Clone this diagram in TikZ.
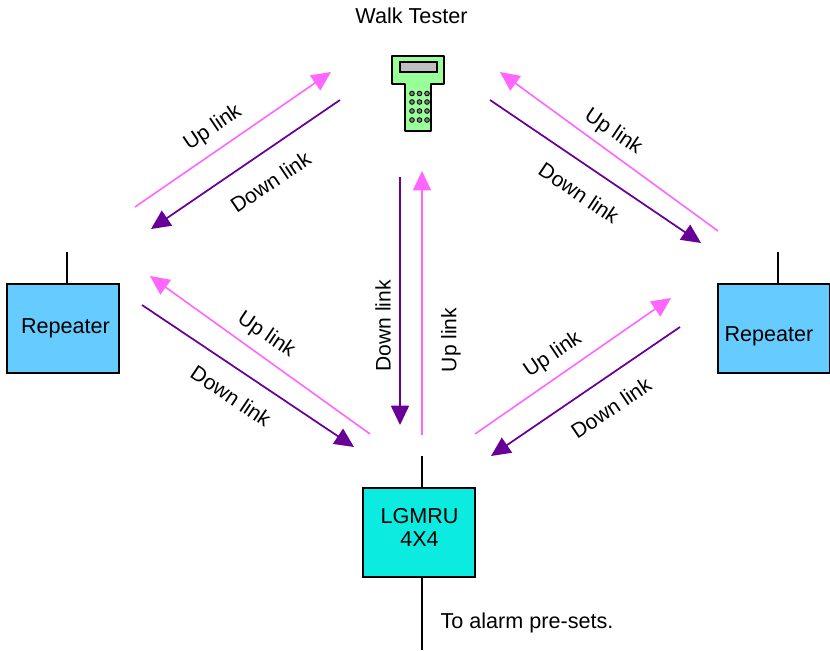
\documentclass[tikz,border=0pt]{standalone}
\usepackage{fontspec}
\setmainfont{Liberation Sans}
\usetikzlibrary{arrows.meta}
\definecolor{uplink}{HTML}{FF66FF}
\definecolor{downlink}{HTML}{660099}
\definecolor{repeaterblue}{HTML}{66CCFF}
\definecolor{lgmrucyan}{HTML}{0CEBE0}
\definecolor{testergreen}{HTML}{99FF99}
\definecolor{testergrey}{HTML}{C0C0C0}
\tikzset{
  box/.style={draw=black,line width=1.5pt,minimum width=84pt,minimum height=66.75pt,inner sep=0pt},
  txt/.style={inner sep=0pt,font=\fontsize{16.2pt}{17.2pt}\selectfont,align=center},
  linktxt/.style={inner sep=0pt,font=\fontsize{15.8pt}{17pt}\selectfont},
  up/.style={uplink,line width=1.2pt,-{Triangle[length=14.5pt,width=13.5pt]}},
  down/.style={downlink,line width=1.3pt,-{Triangle[length=14.5pt,width=13.5pt]}},
  wire/.style={black,line width=1.3pt},
  key/.style={draw=black,fill=gray,line width=.6pt,circle,minimum size=3.5pt,inner sep=0pt}
}
\begin{document}
\begin{tikzpicture}[x=0.75pt,y=-0.75pt]
  \useasboundingbox (0,0) rectangle (830,650);
  \draw
    (63,328.5) node[box,fill=repeaterblue] (leftrepeater){}
    (774,328.5) node[box,fill=repeaterblue] (rightrepeater){}
    (419,532.5) node[box,fill=lgmrucyan] (lgmru){};
  \draw
    (65.5,328) node[txt] (leftname){Repeater}
    (769,336) node[txt] (rightname){Repeater}
    (419.5,527) node[txt] (lgmruname){LGMRU\\4X4}
    (411.5,16) node[txt] (testername){Walk Tester}
    (527,623) node[txt] (alarmname){To alarm pre-sets.};
  \draw
    (213,128) node[linktxt,rotate=34] (upa){Up link}
    (270.5,182) node[linktxt,rotate=34] (downa){Down link}
    (613,132) node[linktxt,rotate=-34] (upb){Up link}
    (579,193) node[linktxt,rotate=-34] (downb){Down link}
    (383,326) node[linktxt,rotate=90] (downc){Down link}
    (451,340) node[linktxt,rotate=90] (upc){Up link}
    (266,335) node[linktxt,rotate=-34] (upd){Up link}
    (231,396) node[linktxt,rotate=-34] (downd){Down link}
    (553,355) node[linktxt,rotate=34] (upe){Up link}
    (611,408) node[linktxt,rotate=34] (downe){Down link};
  % tester
  \draw[fill=testergreen,line width=.8pt,line join=round]
    (392,56) -- (444,56) -- (444,84) -- (431,84) -- (431,131) -- (405,131) -- (405,84) -- (392,84) -- cycle;
  \draw[fill=testergrey,line width=.8pt] (400,62) rectangle (437,72);
  \draw
    (412,93.5) node[key] (k1){}
    (419.5,93.5) node[key] (k2){}
    (427,93.5) node[key] (k3){}
    (412,102) node[key] (k4){}
    (419.5,102) node[key] (k5){}
    (427,102) node[key] (k6){}
    (412,111) node[key] (k7){}
    (419.5,111) node[key] (k8){}
    (427,111) node[key] (k9){}
    (412,120) node[key] (k10){}
    (419.5,120) node[key] (k11){}
    (427,120) node[key] (k12){};
  % link ends
  \coordinate (a1) at (135,207);
  \coordinate (a2) at (331,72);
  \coordinate (a3) at (340,100);
  \coordinate (a4) at (151,229);
  \coordinate (b1) at (718,231);
  \coordinate (b2) at (500,72);
  \coordinate (b3) at (490,100);
  \coordinate (b4) at (701,243);
  \coordinate (c1) at (400,177);
  \coordinate (c2) at (400,425);
  \coordinate (c3) at (422,435);
  \coordinate (c4) at (422,171);
  \coordinate (d1) at (370,434);
  \coordinate (d2) at (150,276);
  \coordinate (d3) at (142,305);
  \coordinate (d4) at (354,447);
  \coordinate (e1) at (475,434);
  \coordinate (e2) at (671,298);
  \coordinate (e3) at (680,327);
  \coordinate (e4) at (491,456);
  \coordinate (leftaerial) at (67,252);
  \coordinate (rightaerial) at (778,252);
  \coordinate (lgmrutop) at (422,456);
  \coordinate (lgmrubottom) at (422,650);
  \begin{scope}
    \draw[up] (a1) to (a2);
    \draw[down] (a3) to (a4);
    \draw[up] (b1) to (b2);
    \draw[down] (b3) to (b4);
    \draw[down] (c1) to (c2);
    \draw[up] (c3) to (c4);
    \draw[up] (d1) to (d2);
    \draw[down] (d3) to (d4);
    \draw[up] (e1) to (e2);
    \draw[down] (e3) to (e4);
    \draw[wire] (leftaerial) to (leftaerial |- leftrepeater.north);
    \draw[wire] (rightaerial) to (rightaerial |- rightrepeater.north);
    \draw[wire] (lgmrutop) to (lgmrutop |- lgmru.north);
    \draw[wire] (lgmrubottom |- lgmru.south) to (lgmrubottom);
  \end{scope}
\end{tikzpicture}
\end{document}
